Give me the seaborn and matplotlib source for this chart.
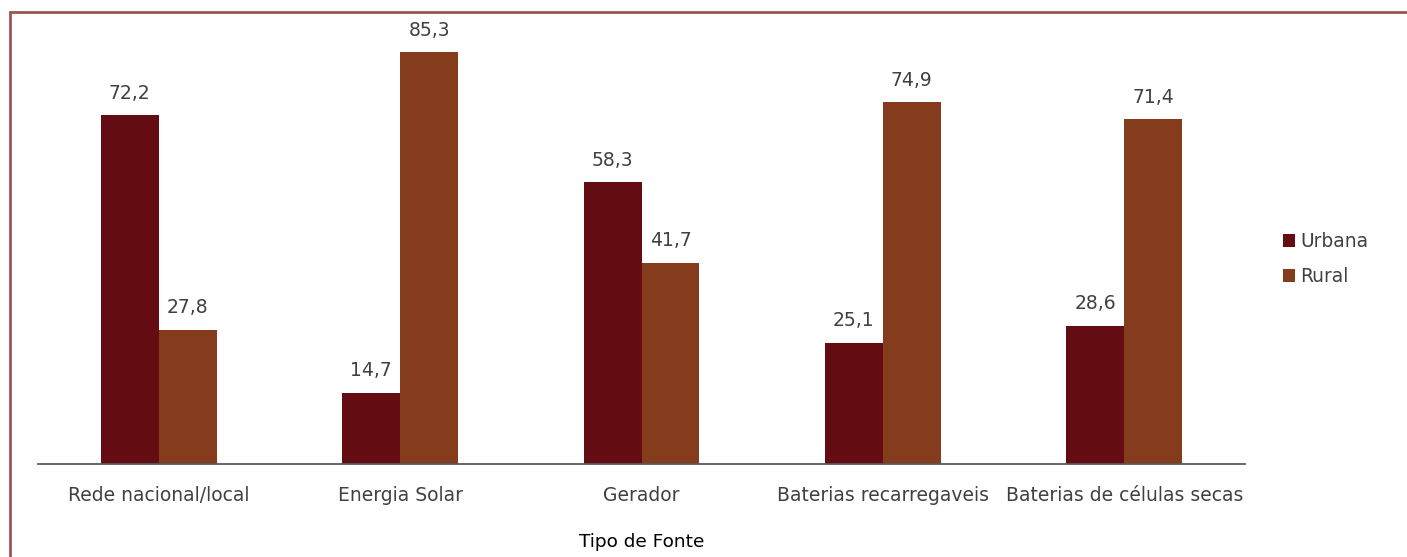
import matplotlib
matplotlib.use("Agg")
import matplotlib.pyplot as plt
import seaborn as sns
import pandas as pd
from matplotlib.patches import Rectangle

categories = ["Rede nacional/local", "Energia Solar", "Gerador",
              "Baterias recarregaveis", "Baterias de células secas"]
urbana = [72.2, 14.7, 58.3, 25.1, 28.6]
rural = [27.8, 85.3, 41.7, 74.9, 71.4]
series = ["Urbana", "Rural"]
colors = ["#630c11", "#843c1d"]

df = pd.DataFrame({
    "Tipo de Fonte": categories * 2,
    "valor": urbana + rural,
    "Área": ["Urbana"] * len(categories) + ["Rural"] * len(categories),
})

sns.set_style("white")
plt.rcParams["font.family"] = ["DejaVu Sans"]

W, H = 1407, 557
fig = plt.figure(figsize=(W / 100, H / 100), dpi=100)
ax = fig.add_axes([38 / W, (H - 464) / H, (1245 - 38) / W, (464 - 30) / H])

sns.barplot(data=df, x="Tipo de Fonte", y="valor", hue="Área",
            hue_order=series, palette=colors, width=0.48, gap=0,
            saturation=1, linewidth=0, ax=ax, legend=True)

ax.set_ylim(0, (464 - 30) / 4.83)
ax.set_xlim(-0.5, len(categories) - 0.5)
for c in ax.containers:
    ax.bar_label(c, labels=[f"{v:.1f}".replace(".", ",") for v in c.datavalues],
                 padding=9, fontsize=13.5, color="#404040")

for s in ["top", "right", "left"]:
    ax.spines[s].set_visible(False)
ax.spines["bottom"].set_color("#595959")
ax.spines["bottom"].set_linewidth(1.3)
ax.set_yticks([])
ax.set_ylabel("")
ax.tick_params(axis="x", length=0, pad=16, labelsize=13.5, labelcolor="#404040")
ax.set_xlabel("Tipo de Fonte", fontsize=13.3, color="black", labelpad=20)

leg = ax.legend(loc="center left", bbox_to_anchor=(1266 / W, (H - 259) / H),
                bbox_transform=fig.transFigure, frameon=False, fontsize=13.4,
                handlelength=0.65, handleheight=0.65, handletextpad=0.3,
                labelspacing=0.85)
for t in leg.get_texts():
    t.set_color("#404040")

fig.patches.append(Rectangle((10 / W, -0.1), 1.2, (H - 12) / H + 0.1,
                             transform=fig.transFigure, fill=False,
                             edgecolor="#9b5555", linewidth=2.0))

fig.savefig("out.png", dpi=100)
